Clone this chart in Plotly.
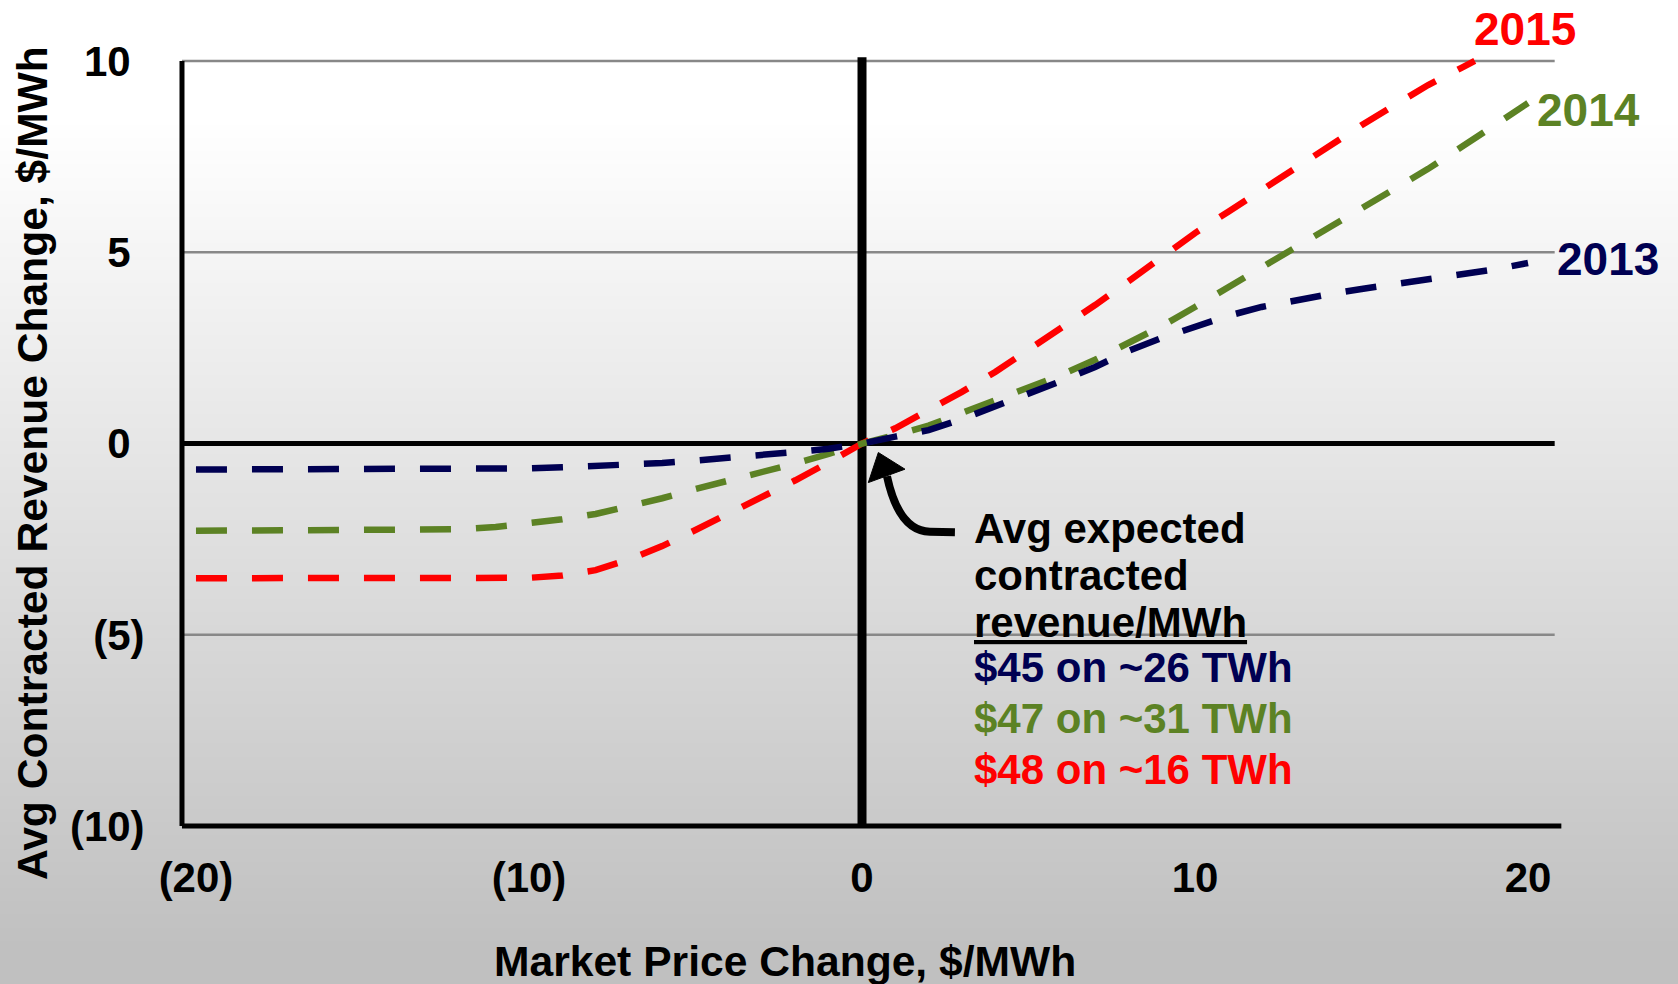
import base64, struct, zlib
import plotly.graph_objects as go

# ---------------- data ----------------
price_change = [-20, -18, -16, -14, -12, -11, -10, -9, -8, -7, -6, -5, -4, -3, -2, -1, 0,
                1, 2, 3, 4, 5, 6, 7, 8, 9, 10, 11, 12, 13, 14, 15, 16, 17, 18, 19, 20]
rev_2013 = [-0.68, -0.68, -0.68, -0.68, -0.67, -0.67, -0.65, -0.62, -0.59, -0.555, -0.51, -0.445,
            -0.38, -0.305, -0.22, -0.135, 0.0,
            0.18, 0.35, 0.64, 0.96, 1.30, 1.64, 2.00, 2.42, 2.76, 3.07, 3.34, 3.57, 3.75, 3.90,
            4.04, 4.16, 4.28, 4.42, 4.55, 4.72]
rev_2014 = [-2.28, -2.28, -2.28, -2.27, -2.24, -2.18, -2.10, -1.98, -1.84, -1.65, -1.43, -1.19,
            -0.97, -0.755, -0.52, -0.27, 0.0,
            0.22, 0.47, 0.80, 1.12, 1.45, 1.80, 2.19, 2.62, 3.07, 3.57, 4.09, 4.60, 5.11, 5.63,
            6.16, 6.67, 7.18, 7.75, 8.30, 8.90]
price_change_2015 = [-20, -18, -16, -14, -12, -11, -10, -9, -8, -7, -6, -5, -4, -3, -2, -1, 0,
                     1, 2, 3, 4, 5, 6, 7, 8, 9, 10, 11, 12, 13, 14, 15, 16, 17, 18, 18.4]
rev_2015 = [-3.52, -3.52, -3.52, -3.52, -3.52, -3.52, -3.51, -3.45, -3.31, -3.03, -2.68, -2.26,
            -1.83, -1.40, -0.96, -0.49, 0.0,
            0.40, 0.86, 1.35, 1.87, 2.44, 3.03, 3.62, 4.24, 4.88, 5.50, 6.06, 6.63, 7.19, 7.75,
            8.32, 8.85, 9.37, 9.82, 10.0]

series_names = ["2013", "2014", "2015"]
x_tickvals = [-20, -10, 0, 10, 20]
x_ticktext = ["(20)", "(10)", "0", "10", "20"]
y_tickvals = [-10, -5, 0, 5, 10]
y_ticktext = ["(10)", "(5)", "0", "5", "10"]
note_lines = ["Avg expected", "contracted", "revenue/MWh",
              "$45 on ~26 TWh", "$47 on ~31 TWh", "$48 on ~16 TWh"]

# ---------------- styling ----------------
NAVY = "#000052"
GREEN = "#5C8224"
RED = "#FF0000"
FONT = "Liberation Sans, Arial, sans-serif"
W, H = 1678, 984
L, R, T, B = 176, 114, 56, 151
XR = [-20.6, 21.08]
YR = [-10.18, 10.13]
PW, PH = W - L - R, H - T - B


def paper(px, py):
    return (px - L) / PW, (H - B - py) / PH


# vertical grey gradient background as a tiny PNG
def gradient_png(h, w=4):
    vals = [max(192, min(255, int(round(267 - 0.076 * y)))) for y in range(h)]
    raw = b"".join(b"\x00" + bytes([v]) * w for v in vals)

    def chunk(t, d):
        return struct.pack(">I", len(d)) + t + d + struct.pack(">I", zlib.crc32(t + d) & 0xFFFFFFFF)

    ihdr = struct.pack(">IIBBBBB", w, h, 8, 0, 0, 0, 0)
    png = b"\x89PNG\r\n\x1a\n" + chunk(b"IHDR", ihdr) + chunk(b"IDAT", zlib.compress(raw)) + chunk(b"IEND", b"")
    return "data:image/png;base64," + base64.b64encode(png).decode()


fig = go.Figure()
DASH = "31px,25px"
fig.add_trace(go.Scatter(x=price_change_2015, y=rev_2015, mode="lines", name=series_names[2],
                         line=dict(color=RED, width=6.5, dash=DASH), showlegend=False))
fig.add_trace(go.Scatter(x=price_change, y=rev_2014, mode="lines", name=series_names[1],
                         line=dict(color=GREEN, width=6.5, dash=DASH), showlegend=False))
fig.add_trace(go.Scatter(x=price_change, y=rev_2013, mode="lines", name=series_names[0],
                         line=dict(color=NAVY, width=6.5, dash=DASH), showlegend=False))

pad = "<span style='color:rgba(0,0,0,0)'>)</span>"
y_ticktext_padded = [t if t.startswith("(") else t + pad for t in y_ticktext]

fig.update_xaxes(range=XR, showgrid=False, zeroline=False, showline=False,
                 tickvals=x_tickvals, ticktext=x_ticktext, ticks="outside", ticklen=8,
                 tickcolor="rgba(0,0,0,0)",
                 tickfont=dict(family=FONT, size=42, color="black", weight="bold"))
fig.update_yaxes(range=YR, showgrid=False, zeroline=False, showline=False,
                 tickvals=y_tickvals, ticktext=y_ticktext_padded, ticks="outside", ticklen=22,
                 tickcolor="rgba(0,0,0,0)",
                 tickfont=dict(family=FONT, size=42, color="black", weight="bold"))

shapes = []
GRID_X0, GRID_X1 = -20.42, 20.8
for gy in [10, 5, -5]:
    shapes.append(dict(type="line", xref="x", yref="y", x0=GRID_X0, x1=GRID_X1, y0=gy, y1=gy,
                       line=dict(color="#888888", width=2.5), layer="below"))
shapes.append(dict(type="line", xref="x", yref="y", x0=GRID_X0, x1=GRID_X1, y0=0, y1=0,
                   line=dict(color="black", width=5), layer="below"))
shapes.append(dict(type="line", xref="x", yref="y", x0=GRID_X0, x1=GRID_X0, y0=-10, y1=10,
                   line=dict(color="black", width=5), layer="below"))
shapes.append(dict(type="line", xref="x", yref="y", x0=GRID_X0, x1=21.0, y0=-10, y1=-10,
                   line=dict(color="black", width=5), layer="below"))
shapes.append(dict(type="line", xref="x", yref="y", x0=0, x1=0, y0=-10, y1=10.1,
                   line=dict(color="black", width=9), layer="below"))
# curved callout arrow
shapes.append(dict(type="path", xref="x", yref="y",
                   path="M 2.79,-2.318 L 2.04,-2.305 C 1.29,-2.29 0.93,-1.586 0.75,-0.855",
                   line=dict(color="black", width=8)))
shapes.append(dict(type="path", xref="x", yref="y",
                   path="M 0.49,-0.235 L 0.19,-1.02 L 1.29,-0.67 Z",
                   fillcolor="black", line=dict(color="black", width=1)))

annotations = []


def add_text(text, px, py, color, size=42, xanchor="left", angle=0, under=False):
    x, y = paper(px, py)
    f = dict(family=FONT, size=size, color=color, weight="bold")
    if under:
        f["lineposition"] = "under"
    annotations.append(dict(text=text, x=x, y=y, xref="paper", yref="paper",
                            xanchor=xanchor, yanchor="middle", showarrow=False,
                            textangle=angle, font=f))


add_text(series_names[2], 1472, 29, RED, size=46)
add_text(series_names[1], 1535, 110, GREEN, size=46)
add_text(series_names[0], 1555, 259, NAVY, size=46)

note_y = [528, 576, 622, 667.5, 718, 769]
note_c = ["black", "black", "black", NAVY, GREEN, RED]
for i, (txt, yy, cc) in enumerate(zip(note_lines, note_y, note_c)):
    add_text(txt, 972, yy, cc, under=(i == 2))

add_text("Market Price Change, $/MWh", 785, 961, "black", size=42.6, xanchor="center")
add_text("Avg Contracted Revenue Change, $/MWh", 32, 463, "black", size=42.6,
         xanchor="center", angle=-90)

x0p, ytop = paper(-40, -40)
x1p, ybot = paper(W + 40, H + 40)
fig.update_layout(
    width=W, height=H,
    margin=dict(l=L, r=R, t=T, b=B, pad=0),
    paper_bgcolor="white", plot_bgcolor="rgba(0,0,0,0)",
    shapes=shapes, annotations=annotations,
    images=[dict(source=gradient_png(H + 80), xref="paper", yref="paper", x=x0p, y=ytop,
                 sizex=x1p - x0p, sizey=ytop - ybot, xanchor="left", yanchor="top",
                 sizing="stretch", layer="below")],
)

fig.write_html("out.html", config={"displayModeBar": False},
               post_script="document.body.style.margin='0';document.body.style.overflow='hidden';")
